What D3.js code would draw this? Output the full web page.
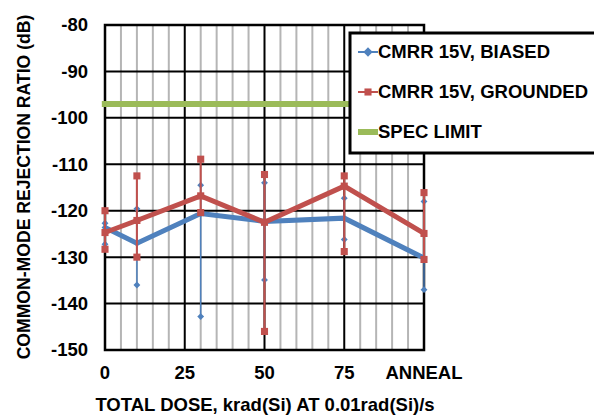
<!DOCTYPE html>
<html>
<head>
<meta charset="utf-8">
<script src="https://cdn.jsdelivr.net/npm/d3@7"></script>
<style>
body { margin: 0; background: #fff; }
svg { display: block; font-family: Arial, "Liberation Sans", sans-serif; }
</style>
</head>
<body>
<svg id="svg1" width="594" height="418"></svg>
<script>
var width = 594;
var height = 418;

// dose points (ANNEAL plotted at 100)
var doses = [0, 10, 30, 50, 75, 100];
var xTicks = [0, 25, 50, 75, 100];
var xTickLabels = ['0', '25', '50', '75', 'ANNEAL'];
var yTicks = [-80, -90, -100, -110, -120, -130, -140, -150];

var biasedMean = [-123.6, -127, -120.6, -122.3, -121.6, -130.2];
var biasedMax = [-122.7, -119.6, -114.5, -114, -117.3, -118];
var biasedMin = [-127.2, -136, -142.8, -134.9, -126.2, -137];

var groundedMean = [-124.7, -122.1, -116.8, -122.5, -114.7, -124.9];
var groundedMax = [-120, -112.5, -108.9, -112.2, -112.5, -116.1];
var groundedMin = [-128.3, -130, -120.4, -146, -128.8, -130.5];

var specLimit = -97;

var marginLeft = 105, marginTop = 25, plotW = 319, plotH = 325;
var fs = 18.5;

var svg = d3.select('svg')
    .append('g')
    .attr('transform', 'translate(' + marginLeft + ',' + marginTop + ')');

var x = d3.scaleLinear().domain([0, 100]).range([0, plotW]);
var y = d3.scaleLinear().domain([-150, -80]).range([plotH, 0]);

// minor vertical grid every 5
svg.selectAll('.minor')
    .data(d3.range(5, 100, 5).filter(function(d){ return d % 25 != 0; }))
    .enter()
    .append('line')
    .attr('x1', function(d){ return x(d); })
    .attr('x2', function(d){ return x(d); })
    .attr('y1', 0).attr('y2', plotH)
    .attr('stroke', '#b5b5b5')
    .attr('stroke-width', 2);

// major vertical grid
svg.selectAll('.majorx')
    .data([25, 50, 75])
    .enter()
    .append('line')
    .attr('x1', function(d){ return x(d); })
    .attr('x2', function(d){ return x(d); })
    .attr('y1', 0).attr('y2', plotH)
    .attr('stroke', 'black')
    .attr('stroke-width', 2);

// horizontal grid
svg.selectAll('.majory')
    .data(yTicks.slice(1, -1))
    .enter()
    .append('line')
    .attr('x1', 0).attr('x2', plotW)
    .attr('y1', function(d){ return y(d); })
    .attr('y2', function(d){ return y(d); })
    .attr('stroke', 'black')
    .attr('stroke-width', 2);

// plot border
svg.append('rect')
    .attr('x', 0).attr('y', 0)
    .attr('width', plotW).attr('height', plotH)
    .attr('fill', 'none')
    .attr('stroke', 'black')
    .attr('stroke-width', 2.5);

// spec limit
svg.append('line')
    .attr('x1', x(-1)).attr('x2', x(100))
    .attr('y1', y(specLimit)).attr('y2', y(specLimit))
    .attr('stroke', '#9BBB59')
    .attr('stroke-width', 6);

var line = d3.line()
    .x(function(d){ return x(d[0]); })
    .y(function(d){ return y(d[1]); });

function drawSeries(mean, lo, hi, color, shape, endSize, meanSize, barW) {
    var pts = doses.map(function(d, i){ return [d, mean[i]]; });
    svg.append('path')
        .attr('d', line(pts))
        .attr('fill', 'none')
        .attr('stroke', color)
        .attr('stroke-width', 5)
        .attr('stroke-linejoin', 'miter');

    // error bars
    svg.selectAll(null)
        .data(doses)
        .enter()
        .append('line')
        .attr('x1', function(d){ return x(d); })
        .attr('x2', function(d){ return x(d); })
        .attr('y1', function(d, i){ return y(lo[i]); })
        .attr('y2', function(d, i){ return y(hi[i]); })
        .attr('stroke', color)
        .attr('stroke-width', barW);

    var ends = [];
    doses.forEach(function(d, i){ ends.push([d, lo[i]]); ends.push([d, hi[i]]); });
    svg.selectAll(null)
        .data(ends)
        .enter()
        .append('path')
        .attr('transform', function(d){ return 'translate(' + x(d[0]) + ',' + y(d[1]) + ')'; })
        .attr('d', d3.symbol().type(shape).size(endSize))
        .attr('fill', color);

    svg.selectAll(null)
        .data(pts)
        .enter()
        .append('path')
        .attr('transform', function(d){ return 'translate(' + x(d[0]) + ',' + y(d[1]) + ')'; })
        .attr('d', d3.symbol().type(shape).size(meanSize))
        .attr('fill', color);
}

drawSeries(biasedMean, biasedMin, biasedMax, '#4F81BD', d3.symbolDiamond2, 30, 30, 1.5);
drawSeries(groundedMean, groundedMin, groundedMax, '#C0504D', d3.symbolSquare2, 64, 64, 2);

// y tick labels
svg.selectAll('.ylab')
    .data(yTicks)
    .enter()
    .append('text')
    .attr('x', -17)
    .attr('y', function(d){ return y(d); })
    .attr('dy', '0.35em')
    .attr('text-anchor', 'end')
    .attr('font-size', fs)
    .attr('font-weight', 'bold')
    .text(function(d){ return d; });

// x tick labels
svg.selectAll('.xlab')
    .data(xTicks)
    .enter()
    .append('text')
    .attr('x', function(d){ return x(d); })
    .attr('y', plotH + 29)
    .attr('text-anchor', 'middle')
    .attr('font-size', fs)
    .attr('font-weight', 'bold')
    .text(function(d, i){ return xTickLabels[i]; });

// axis titles
svg.append('text')
    .attr('x', 160)
    .attr('y', plotH + 61)
    .attr('text-anchor', 'middle')
    .attr('font-size', fs)
    .attr('font-weight', 'bold')
    .text('TOTAL DOSE, krad(Si) AT 0.01rad(Si)/s');

svg.append('text')
    .attr('transform', 'translate(-75,' + 162 + ') rotate(-90)')
    .attr('text-anchor', 'middle')
    .attr('font-size', 17.6)
    .attr('font-weight', 'bold')
    .text('COMMON-MODE REJECTION RATIO (dB)');

// legend
var legend = d3.select('svg').append('g').attr('transform', 'translate(350,33)');
legend.append('rect')
    .attr('x', 0).attr('y', 0)
    .attr('width', 260).attr('height', 120)
    .attr('fill', 'white')
    .attr('stroke', 'black')
    .attr('stroke-width', 3);

var legendItems = [
    {name: 'CMRR 15V, BIASED', color: '#4F81BD', shape: d3.symbolDiamond2, size: 55, w: 2},
    {name: 'CMRR 15V, GROUNDED', color: '#C0504D', shape: d3.symbolSquare2, size: 64, w: 2},
    {name: 'SPEC LIMIT', color: '#9BBB59', shape: null, size: 0, w: 6}
];

legendItems.forEach(function(d, i){
    var ly = 19 + i * 40;
    legend.append('line')
        .attr('x1', 8).attr('x2', 28)
        .attr('y1', ly).attr('y2', ly)
        .attr('stroke', d.color)
        .attr('stroke-width', d.w);
    if (d.shape) {
        legend.append('path')
            .attr('transform', 'translate(18,' + ly + ')')
            .attr('d', d3.symbol().type(d.shape).size(d.size))
            .attr('fill', d.color);
    }
    legend.append('text')
        .attr('x', 28)
        .attr('y', ly)
        .attr('dy', '0.35em')
        .attr('font-size', fs)
        .attr('font-weight', 'bold')
        .text(d.name);
});
</script>
</body>
</html>
